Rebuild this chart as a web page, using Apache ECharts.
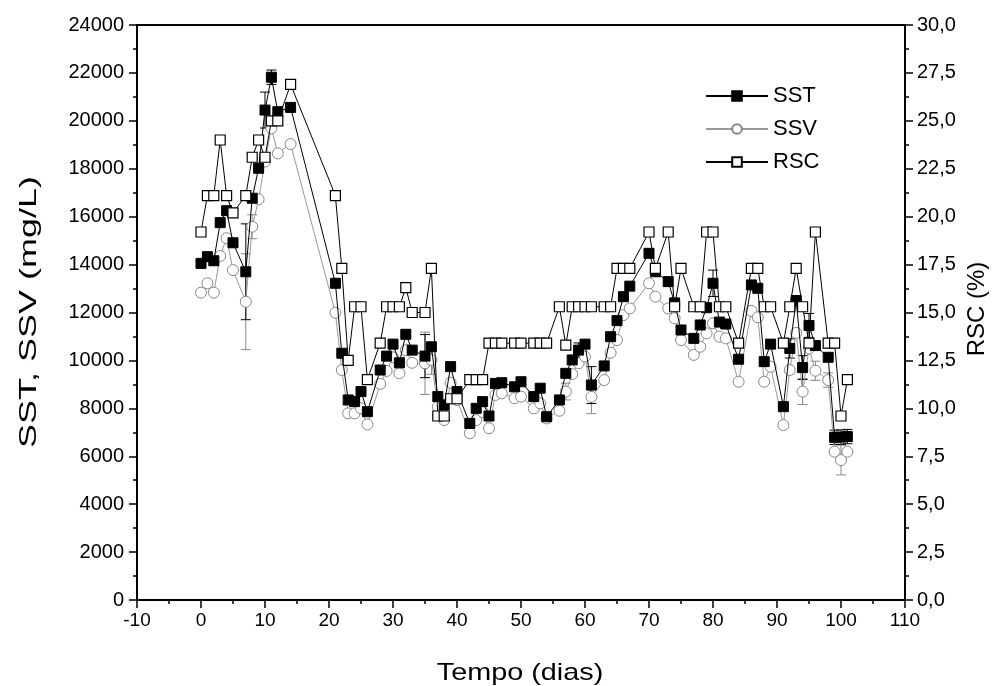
<!DOCTYPE html>
<html>
<head>
<meta charset="utf-8">
<script src="https://cdn.jsdelivr.net/npm/echarts@6/dist/echarts.min.js"></script>
<style>html,body{margin:0;padding:0;background:#fff}#c{width:1002px;height:686px}</style>
</head>
<body>
<div id="c"></div>
<script>
const days = [0,1,2,3,4,5,7,8,9,10,11,12,14,21,22,23,24,25,26,28,29,30,31,32,33,35,36,37,38,39,40,42,43,44,45,46,47,49,50,52,53,54,56,57,58,59,60,61,63,64,65,66,67,70,71,73,74,75,77,78,79,80,81,82,84,86,87,88,89,91,92,93,94,95,96,98,99,100,101];
const sst = [14050,14330,14160,15750,16250,14910,13700,16770,18020,20450,21820,20380,20560,13220,10300,8350,8280,8700,7860,9600,10180,10680,9900,11090,10430,10180,10570,8490,8140,9740,8700,7370,8000,8280,7680,9040,9070,8900,9110,8490,8840,7650,8350,9460,10020,10430,10680,8970,9770,10990,11660,12660,13100,14470,13700,13290,12400,11270,10920,11480,12200,13220,11600,11520,10050,13150,13010,9950,10680,8070,10500,12500,9700,11460,10620,10130,6790,6800,6820];
const ssv = [12830,13220,12830,14360,15100,13770,12450,15580,16720,18300,19690,18640,19030,11990,9600,7790,7790,8000,7330,9020,9560,10130,9460,10430,9900,9880,10020,8070,7510,9070,8350,6960,7510,7850,7170,8560,8630,8420,8490,8000,8210,7580,7900,8700,9430,9880,10160,8480,9180,10320,10850,11890,12170,13220,12660,12170,11760,10850,10230,10570,11130,11550,10990,10920,9110,12070,11800,9110,9740,7300,9600,11150,8700,10500,9570,9180,6190,5840,6190];
const rsc = [19.2,21.1,21.1,24.0,21.1,20.2,21.1,23.1,24.0,23.1,25.0,25.0,26.9,21.1,17.3,12.5,15.3,15.3,11.5,13.4,15.3,15.3,15.3,16.3,15.0,15.0,17.3,9.6,9.6,10.5,10.5,11.5,11.5,11.5,13.4,13.4,13.4,13.4,13.4,13.4,13.4,13.4,15.3,13.3,15.3,15.3,15.3,15.3,15.3,15.3,17.3,17.3,17.3,19.2,17.3,19.2,15.3,17.3,15.3,15.3,19.2,19.2,15.3,15.3,13.4,17.3,17.3,15.3,15.3,13.4,15.3,17.3,15.3,13.4,19.2,13.4,13.4,9.6,11.5];
// error bars: [day, half-width]
const sstErr = [[7,2000],[10,750],[11,300],[35,900],[59,300],[61,770],[80,550],[92,400],[94,500],[95,500],[99,300],[100,300],[101,300]];
const ssvErr = [[7,2000],[8,500],[35,1300],[36,600],[57,350],[61,700],[94,540],[96,400],[98,300],[100,620]];
const xTicks = {min:-10, max:110, interval:10};
const yLeft = {min:0, max:24000, interval:2000};
const yRight = {min:0, max:30, interval:2.5};
const titles = {x:'Tempo (dias)', yLeft:'SST, SSV (mg/L)', yRight:'RSC (%)'};

const zip = (v) => days.map((d,i)=>[d, v[i]]);
const errData = (errs, v) => errs.map(([d,e]) => { const y = v[days.indexOf(d)]; return [d, y-e, y+e]; });
const errSeries = (errs, v, color) => ({
  type:'custom', yAxisIndex:0, z:1, silent:true,
  data: errData(errs, v),
  renderItem: (params, api) => {
    const x = api.value(0);
    const lo = api.coord([x, api.value(1)]);
    const hi = api.coord([x, api.value(2)]);
    const w = 5;
    const st = {stroke: color, lineWidth: 1};
    return {type:'group', children:[
      {type:'line', shape:{x1:lo[0], y1:lo[1], x2:hi[0], y2:hi[1]}, style:st},
      {type:'line', shape:{x1:lo[0]-w, y1:lo[1], x2:lo[0]+w, y2:lo[1]}, style:st},
      {type:'line', shape:{x1:hi[0]-w, y1:hi[1], x2:hi[0]+w, y2:hi[1]}, style:st}
    ]};
  }
});

const chart = echarts.init(document.getElementById('c'), null, {renderer:'canvas'});
const font = 'Liberation Sans, Arial, sans-serif';
const titleText = (text, x, y, rot, sx) => ({
  type:'text', x:x, y:y, rotation:rot, scaleX:sx, silent:true,
  style:{text:text, fontFamily:font, fontSize:24, fill:'#000', align:'center', verticalAlign:'middle', textAlign:'center', textVerticalAlign:'middle'}
});
chart.setOption({
  backgroundColor:'#fff',
  animation:false,
  grid:{left:137, right:97, top:25, bottom:86, show:true, borderColor:'#000', borderWidth:2},
  graphic:[
    titleText(titles.x, 520, 673, 0, 1.2),
    titleText(titles.yLeft, 29, 312, Math.PI/2, 1.5),
    titleText(titles.yRight, 977, 309, Math.PI/2, 1.0)
  ],
  legend:{
    orient:'vertical', left:700, top:80, itemWidth:62, itemHeight:12, itemGap:11,
    textStyle:{fontFamily:font, fontSize:22, color:'#000'},
    data:['SST','SSV','RSC']
  },
  xAxis:{
    type:'value', min:xTicks.min, max:xTicks.max, interval:xTicks.interval,
    axisLine:{show:true, onZero:false, lineStyle:{color:'#000', width:2}},
    axisTick:{show:true, inside:false, length:8, lineStyle:{color:'#000', width:1.5}},
    minorTick:{show:true, splitNumber:2, length:4, lineStyle:{color:'#000', width:1.5}},
    axisLabel:{fontFamily:font, fontSize:19, color:'#000', margin:11},
    splitLine:{show:false}
  },
  yAxis:[{
    type:'value', min:yLeft.min, max:yLeft.max, interval:yLeft.interval, position:'left',
    axisLine:{show:true, onZero:false, lineStyle:{color:'#000', width:2}},
    axisTick:{show:true, inside:false, length:8, lineStyle:{color:'#000', width:1.5}},
    minorTick:{show:true, splitNumber:2, length:4, lineStyle:{color:'#000', width:1.5}},
    axisLabel:{fontFamily:font, fontSize:20, color:'#000', margin:13, formatter:(v)=>String(v)},
    splitLine:{show:false}
  },{
    type:'value', min:yRight.min, max:yRight.max, interval:yRight.interval, position:'right',
    axisLine:{show:true, onZero:false, lineStyle:{color:'#000', width:2}},
    axisTick:{show:true, inside:false, length:8, lineStyle:{color:'#000', width:1.5}},
    minorTick:{show:true, splitNumber:2, length:4, lineStyle:{color:'#000', width:1.5}},
    axisLabel:{fontFamily:font, fontSize:20, color:'#000', margin:12,
      formatter:(v)=>v.toFixed(1).replace('.',',')},
    splitLine:{show:false}
  }],
  series:[
    errSeries(ssvErr, ssv, '#888'),
    errSeries(sstErr, sst, '#000'),
    {name:'SSV', type:'line', yAxisIndex:0, data:zip(ssv), z:2,
     symbol:'circle', symbolSize:11,
     itemStyle:{color:'#fff', borderColor:'#888', borderWidth:1},
     lineStyle:{color:'#999', width:1}, color:'#888'},
    {name:'SST', type:'line', yAxisIndex:0, data:zip(sst), z:3,
     symbol:'rect', symbolSize:10,
     itemStyle:{color:'#000', borderColor:'#000', borderWidth:1},
     lineStyle:{color:'#000', width:1}, color:'#000'},
    {name:'RSC', type:'line', yAxisIndex:1, data:zip(rsc), z:4,
     symbol:'rect', symbolSize:10,
     itemStyle:{color:'#fff', borderColor:'#000', borderWidth:1.2},
     lineStyle:{color:'#000', width:1}, color:'#000'}
  ]
});
</script>
</body>
</html>
